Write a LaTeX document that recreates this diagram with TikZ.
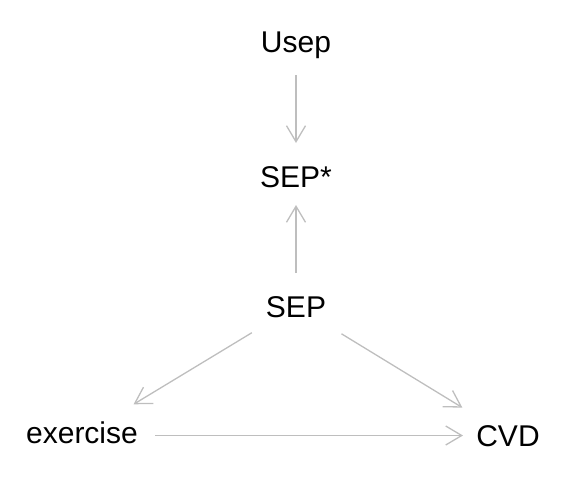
\documentclass[tikz,border=0pt]{standalone}
\usepackage{fontspec}
\setmainfont{Liberation Sans}
\usetikzlibrary{arrows.meta}
\definecolor{edgegray}{HTML}{BEBEBE}
\begin{document}
\begin{tikzpicture}[x=1pt,y=-1pt,
  lbl/.style={anchor=base,inner sep=0pt,outer sep=0pt,text depth=0pt,font=\fontsize{30}{36}\selectfont},
  capl/.style={lbl,text height=22pt},
  lowl/.style={lbl,text height=16pt},
  edge/.style={draw=edgegray,line width=1.3pt,-{Straight Barb[length=16pt,width=19pt]}}]
\useasboundingbox (0,0) rectangle (576,480);
\node[capl] (usep) at (296,52) {Usep};
\node[capl] (sepstar) at (296,187) {SEP*};
\node[capl] (sep) at (296,317) {SEP};
\node[lowl] (exercise) at (82,443.5) {exercise};
\node[capl] (cvd) at (508,446.5) {CVD};
\draw[edge,shorten <=34pt,shorten >=33pt] (usep.center) -- (sepstar.center);
\draw[edge,shorten <=33pt,shorten >=29pt] (sep.center) -- (sepstar.center);
\draw[edge,shorten <=51.6pt,shorten >=60.3pt] (sep.center) -- (exercise.center);
\draw[edge,shorten <=53.3pt,shorten >=53.5pt] (sep.center) -- (cvd.center);
\draw[edge,shorten <=73pt,shorten >=45pt] (exercise.center) -- (cvd.center);
\end{tikzpicture}
\end{document}
